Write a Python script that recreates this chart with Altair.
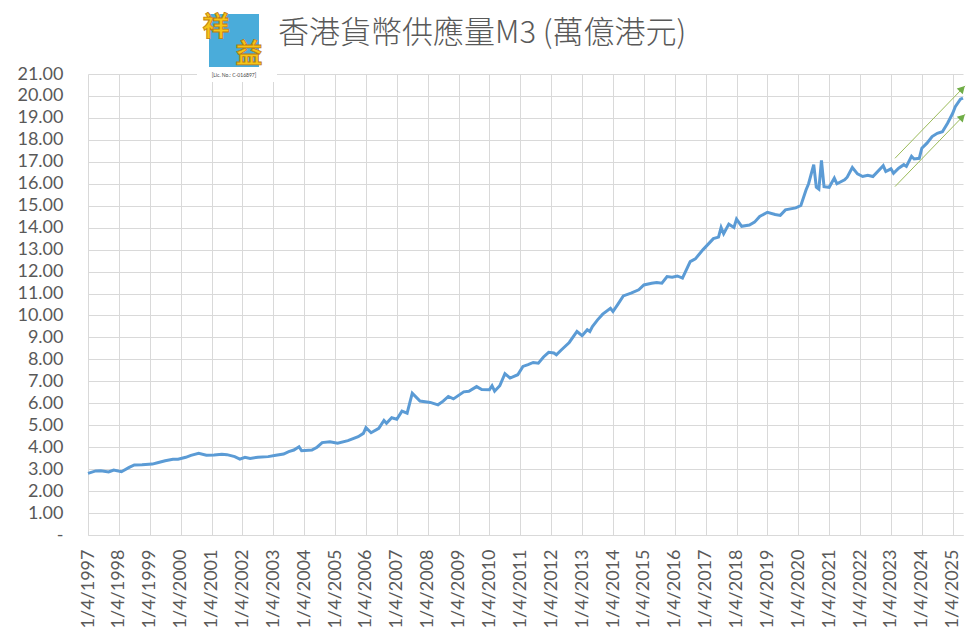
import altair as alt
import pandas as pd

# ---- data ----
months = [
    "1997-04", "1997-07", "1997-09", "1997-12", "1998-02", "1998-05", "1998-08", "1998-10",
    "1999-01", "1999-05", "1999-07", "1999-10", "2000-01", "2000-03", "2000-06", "2000-08",
    "2000-11", "2001-02", "2001-05", "2001-08", "2001-10", "2002-01", "2002-03", "2002-05",
    "2002-07", "2002-10", "2003-02", "2003-05", "2003-08", "2003-10", "2003-12", "2004-02",
    "2004-03", "2004-07", "2004-09", "2004-11", "2005-02", "2005-05", "2005-09", "2006-01",
    "2006-03", "2006-04", "2006-06", "2006-09", "2006-11", "2006-12", "2007-02", "2007-04",
    "2007-06", "2007-08", "2007-10", "2008-01", "2008-05", "2008-08", "2008-10", "2008-12",
    "2009-02", "2009-06", "2009-08", "2009-11", "2010-01", "2010-04", "2010-05", "2010-06",
    "2010-08", "2010-10", "2010-12", "2011-03", "2011-05", "2011-07", "2011-09", "2011-11",
    "2012-01", "2012-03", "2012-05", "2012-06", "2012-08", "2012-11", "2013-02", "2013-04",
    "2013-06", "2013-07", "2013-08", "2013-10", "2013-12", "2014-03", "2014-04", "2014-06",
    "2014-08", "2014-11", "2015-02", "2015-04", "2015-07", "2015-09", "2015-11", "2016-01",
    "2016-03", "2016-05", "2016-07", "2016-10", "2016-12", "2017-03", "2017-07", "2017-09",
    "2017-10", "2017-11", "2018-01", "2018-03", "2018-04", "2018-06", "2018-09", "2018-11",
    "2019-01", "2019-04", "2019-07", "2019-09", "2019-11", "2020-03", "2020-05", "2020-07",
    "2020-08", "2020-10", "2020-11", "2020-12", "2021-01", "2021-02", "2021-04", "2021-06",
    "2021-07", "2021-10", "2021-11", "2022-01", "2022-03", "2022-05", "2022-07", "2022-09",
    "2023-01", "2023-02", "2023-04", "2023-05", "2023-07", "2023-09", "2023-10", "2023-12",
    "2024-01", "2024-03", "2024-04", "2024-06", "2024-08", "2024-10", "2024-12", "2025-02",
    "2025-04", "2025-05", "2025-07", "2025-08",
]
m3_values = [
    2.81, 2.92, 2.93, 2.87, 2.96, 2.88, 3.08, 3.19,
    3.20, 3.23, 3.29, 3.38, 3.45, 3.45, 3.54, 3.63,
    3.72, 3.63, 3.64, 3.68, 3.66, 3.57, 3.46, 3.54,
    3.49, 3.54, 3.57, 3.63, 3.69, 3.80, 3.87, 4.02,
    3.84, 3.87, 4.00, 4.21, 4.25, 4.18, 4.30, 4.48,
    4.63, 4.89, 4.66, 4.86, 5.22, 5.09, 5.34, 5.27,
    5.64, 5.55, 6.46, 6.10, 6.04, 5.93, 6.10, 6.31,
    6.20, 6.52, 6.55, 6.76, 6.63, 6.62, 6.80, 6.55,
    6.80, 7.35, 7.15, 7.30, 7.68, 7.76, 7.86, 7.83,
    8.11, 8.32, 8.29, 8.21, 8.44, 8.77, 9.27, 9.08,
    9.35, 9.27, 9.50, 9.80, 10.06, 10.33, 10.18, 10.53,
    10.89, 11.02, 11.17, 11.39, 11.47, 11.50, 11.47, 11.77,
    11.74, 11.80, 11.70, 12.45, 12.58, 13.00, 13.50, 13.57,
    14.01, 13.72, 14.16, 14.01, 14.39, 14.06, 14.12, 14.25,
    14.51, 14.70, 14.60, 14.56, 14.81, 14.90, 15.01, 15.72,
    16.00, 16.87, 15.84, 15.75, 17.06, 15.87, 15.84, 16.26,
    16.00, 16.18, 16.30, 16.74, 16.45, 16.33, 16.39, 16.33,
    16.82, 16.56, 16.68, 16.48, 16.71, 16.87, 16.79, 17.25,
    17.13, 17.16, 17.62, 17.85, 18.15, 18.30, 18.37, 18.76,
    19.21, 19.51, 19.85, 19.90,
]

# annotation arrows (x in decimal years, y in 萬億港元)
arrow_id = ["a", "a", "b", "b"]
arrow_x = [2023.38, 2025.65, 2023.38, 2025.65]
arrow_y = [17.16, 20.46, 15.87, 19.17]
head_x = [2025.56, 2025.56]
head_y = [20.33, 19.04]

year_ticks = list(range(1997, 2026))
y_ticks = list(range(0, 22))

title_text = "香港貨幣供應量M3 (萬億港元)"

# ---- build tables ----
df = pd.DataFrame({"month": months, "value": m3_values})
df["t"] = df["month"].apply(lambda s: int(s[:4]) + (int(s[5:7]) - 1) / 12.0)

arrows = pd.DataFrame({"id": arrow_id, "t": arrow_x, "value": arrow_y})
heads = pd.DataFrame({"t": head_x, "value": head_y})

X0, X1 = 1997.25, 2025 + 7 / 12.0
xscale = alt.Scale(domain=[X0, X1], nice=False, zero=False)
yscale = alt.Scale(domain=[0, 21], nice=False)

GRID = "#D9D9D9"
TXT = "#595959"
FONT = "Lato"

x_axis = alt.Axis(
    values=[y + 0.25 for y in year_ticks],
    labelExpr="'1/4/' + floor(datum.value)",
    labelAngle=-90,
    labelAlign="right",
    labelBaseline="middle",
    labelPadding=14,
    labelFont=FONT,
    labelFontSize=18,
    labelColor=TXT,
    labelOverlap=False,
    labelFlush=False,
    ticks=False,
    grid=True,
    gridColor=GRID,
    domainColor=GRID,
    title=None,
)
y_axis = alt.Axis(
    values=y_ticks,
    labelExpr="datum.value == 0 ? '-' : format(datum.value, '.2f')",
    labelPadding=25,
    labelFont=FONT,
    labelFontSize=18,
    labelColor=TXT,
    labelOverlap=False,
    labelFlush=False,
    ticks=False,
    grid=True,
    gridColor=GRID,
    domain=False,
    title=None,
)

X = alt.X("t:Q", scale=xscale, axis=x_axis)
Y = alt.Y("value:Q", scale=yscale, axis=y_axis)

line = alt.Chart(df).mark_line(color="#5B9BD5", strokeWidth=3, clip=False).encode(x=X, y=Y)

arrow_lines = alt.Chart(arrows).mark_line(color="#9BBB59", strokeWidth=1, clip=False).encode(
    x=X, y=Y, detail="id:N"
)
arrow_heads = alt.Chart(heads).mark_point(
    shape="triangle-up", filled=True, color="#70AD47", opacity=1, size=70, angle=44, clip=False
).encode(x=X, y=Y)

# logo and title (decorations in pixel positions)
one = alt.Chart(pd.DataFrame({"k": [0]}))
logo_bg = one.mark_rect(color="white").encode(
    x=alt.value(109), x2=alt.value(189), y=alt.value(-74), y2=alt.value(8)
)
logo_sq = one.mark_rect(color="#4AACDA").encode(
    x=alt.value(121), x2=alt.value(171), y=alt.value(-60), y2=alt.value(-7)
)
logo_c1 = one.mark_text(
    text="祥", font="Noto Sans CJK TC", fontSize=27, fontWeight="bold",
    color="#F6C516", stroke="#C07A10", strokeWidth=0.8, align="center", baseline="middle"
).encode(x=alt.value(128), y=alt.value(-46))
logo_c2 = one.mark_text(
    text="益", font="Noto Sans CJK TC", fontSize=27, fontWeight="bold",
    color="#F6C516", stroke="#C07A10", strokeWidth=0.8, align="center", baseline="middle"
).encode(x=alt.value(161), y=alt.value(-19))
logo_lic = one.mark_text(
    text="[Lic. No.: C-016897]", font="Lato", fontSize=5, color="#444444",
    align="center", baseline="middle"
).encode(x=alt.value(146), y=alt.value(1))
title = one.mark_text(
    text=title_text, font="Noto Sans CJK TC", fontSize=31, fontWeight=300,
    color=TXT, align="left", baseline="middle"
).encode(x=alt.value(190), y=alt.value(-40))

chart = (
    alt.layer(line, arrow_lines, arrow_heads, logo_bg, logo_sq, logo_c1, logo_c2, logo_lic, title)
    .properties(
        width=875,
        height=461,
        background="white",
        autosize=alt.AutoSizeParams(type="none"),
        padding={"left": 80, "top": 66, "right": 7, "bottom": 96},
    )
    .configure_view(strokeWidth=0)
)

chart.save("out.html", embed_options={"renderer": "svg", "actions": False})
